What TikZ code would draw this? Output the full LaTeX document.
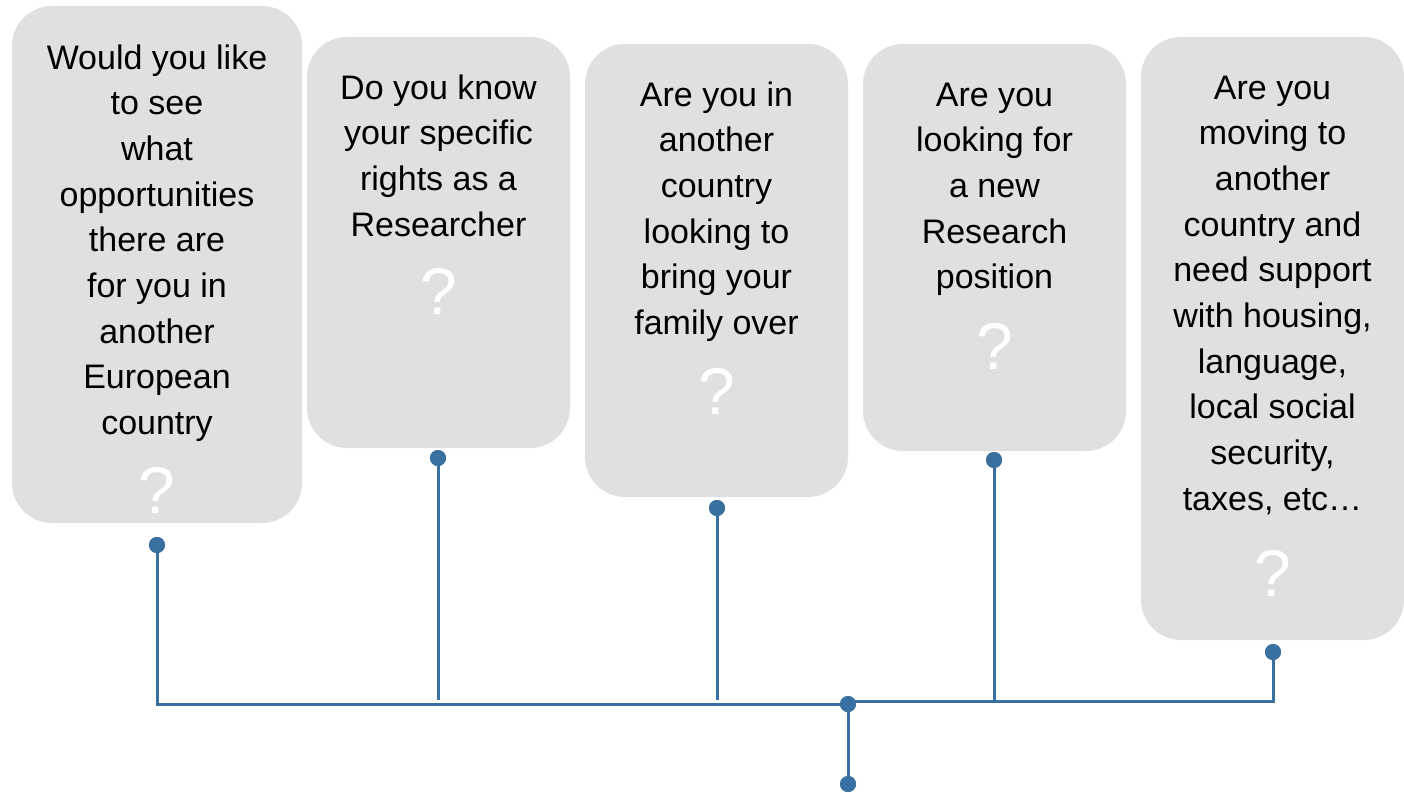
\documentclass[tikz,border=0pt]{standalone}
\usepackage{fontspec}
\setmainfont{Liberation Sans}
\definecolor{boxgray}{RGB}{224,224,224}
\definecolor{linkblue}{RGB}{58,112,160}
\begin{document}
\begin{tikzpicture}[x=1pt,y=-1pt,
  qbox/.style={fill=boxgray, draw=none, rounded corners=40pt, inner sep=0pt},
  qtext/.style={align=center, inner sep=0pt, anchor=base, font=\fontsize{34}{45.7}\selectfont},
  qmark/.style={inner sep=0pt, anchor=base, text=white, font=\fontsize{66}{70}\selectfont},
  dot/.style={circle, fill=linkblue, inner sep=0pt, minimum size=16pt},
  conn/.style={draw=linkblue, line width=3pt}]
\useasboundingbox (0,0) rectangle (1404,792);
% boxes
\node[qbox, minimum width=290pt, minimum height=517pt] (b1) at (157,264.5) {};
\node[qbox, minimum width=263pt, minimum height=411pt] (b2) at (438.5,242.5) {};
\node[qbox, minimum width=263pt, minimum height=453pt] (b3) at (716.5,270.5) {};
\node[qbox, minimum width=263pt, minimum height=407pt] (b4) at (994.5,247.5) {};
\node[qbox, minimum width=263pt, minimum height=603pt] (b5) at (1272.5,338.5) {};
% texts (anchored at the baseline of the last line)
\node[qtext] (t1) at (157,434.6) {Would you like\\to see\\what\\opportunities\\there are\\for you in\\another\\European\\country};
\node[qtext] (t2) at (438.5,236.1) {Do you know\\your specific\\rights as a\\Researcher};
\node[qtext] (t3) at (716.5,334.5) {Are you in\\another\\country\\looking to\\bring your\\family over};
\node[qtext] (t4) at (994.5,288.8) {Are you\\looking for\\a new\\Research\\position};
\node[qtext] (t5) at (1272.5,510.3) {Are you\\moving to\\another\\country and\\need support\\with housing,\\language,\\local social\\security,\\taxes, etc…};
% question marks
\node[qmark] (m1) at (157,513) {?};
\node[qmark] (m2) at (438.5,314) {?};
\node[qmark] (m3) at (716.5,414) {?};
\node[qmark] (m4) at (994.5,369) {?};
\node[qmark] (m5) at (1272.5,596) {?};
% dots
\node[dot] (d1) at (157,545) {};
\node[dot] (d2) at (438,458) {};
\node[dot] (d3) at (717,508) {};
\node[dot] (d4) at (994,460) {};
\node[dot] (d5) at (1273,652) {};
\node[dot] (c) at (848,704) {};
\node[dot] (e) at (848,784) {};
\coordinate (j2) at (438,700);
\coordinate (j3) at (717,700);
\coordinate (j4) at (994,701);
\coordinate (cr) at (848,701);
% connectors
\draw[conn] (d1.center) |- (c.center);
\draw[conn] (d2.center) -- (j2);
\draw[conn] (d3.center) -- (j3);
\draw[conn] (d4.center) -- (j4);
\draw[conn] (d5.center) |- (cr);
\draw[conn] (c.center) -- (e.center);
\node[dot] at (c) {};
\node[dot] at (d1) {};
\node[dot] at (d2) {};
\node[dot] at (d3) {};
\node[dot] at (d4) {};
\node[dot] at (d5) {};
\node[dot] at (e) {};
\end{tikzpicture}
\end{document}
